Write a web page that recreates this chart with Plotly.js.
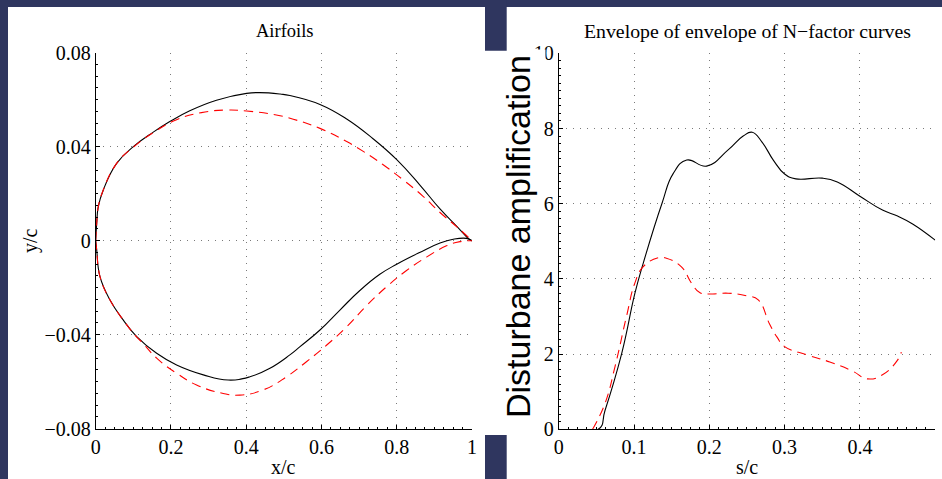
<!DOCTYPE html>
<html><head><meta charset="utf-8">
<script src="https://cdn.plot.ly/plotly-3.0.1.min.js"></script>
<style>html,body{margin:0;padding:0;background:#fff}#chart{width:942px;height:479px}</style>
</head><body><div id="chart"></div>
<script>
// ---- Airfoil data (x/c, y/c) ----
const upperXBlack = [0, 0.0027, 0.0069, 0.0202, 0.0557, 0.1, 0.153, 0.197, 0.25, 0.321, 0.401, 0.436, 0.49, 0.516, 0.596, 0.667, 0.737, 0.80, 0.861, 0.915, 0.959, 0.994, 1];
const upperYBlack = [0, 0.0074, 0.0145, 0.0216, 0.0329, 0.040, 0.0462, 0.0507, 0.0553, 0.0598, 0.0627, 0.063, 0.0624, 0.0618, 0.0580, 0.0518, 0.0434, 0.0345, 0.0238, 0.0135, 0.0062, 0.0004, 0];
const lowerXBlack = [0, 0.0027, 0.0114, 0.038, 0.073, 0.109, 0.162, 0.215, 0.286, 0.352, 0.41, 0.463, 0.516, 0.543, 0.596, 0.649, 0.702, 0.755, 0.80, 0.861, 0.915, 0.95, 0.985, 1];
const lowerYBlack = [0, -0.004, -0.0153, -0.0252, -0.0337, -0.0408, -0.0479, -0.0529, -0.0571, -0.0593, -0.0579, -0.0543, -0.0486, -0.0451, -0.038, -0.0295, -0.0212, -0.0143, -0.0100, -0.0050, -0.0010, 0.0006, 0.001, 0];
const upperXRed = [0, 0.0027, 0.0069, 0.0202, 0.0557, 0.1, 0.162, 0.215, 0.281, 0.348, 0.401, 0.48, 0.525, 0.596, 0.667, 0.711, 0.764, 0.817, 0.87, 0.915, 0.959, 1];
const upperYRed = [0, 0.0074, 0.0145, 0.0216, 0.0329, 0.0398, 0.0469, 0.0515, 0.0545, 0.0556, 0.0552, 0.0535, 0.0517, 0.0478, 0.0422, 0.0380, 0.0323, 0.0259, 0.0189, 0.0120, 0.0060, 0];
const lowerXRed = [0, 0.0027, 0.0114, 0.038, 0.073, 0.109, 0.126, 0.162, 0.215, 0.268, 0.339, 0.383, 0.445, 0.507, 0.56, 0.614, 0.667, 0.72, 0.773, 0.826, 0.879, 0.932, 0.968, 1];
const lowerYRed = [0, -0.004, -0.0153, -0.0252, -0.0337, -0.0410, -0.0437, -0.050, -0.0564, -0.0614, -0.065, -0.0657, -0.0635, -0.0579, -0.0515, -0.0444, -0.0366, -0.0276, -0.0196, -0.0127, -0.0070, -0.0022, -0.0004, 0];

// ---- N-factor envelope data (s/c, N) ----
const sBlack = [0, 0.0526, 0.0615, 0.0837, 0.101, 0.112, 0.137, 0.152, 0.170, 0.1965, 0.225, 0.245, 0.257, 0.27, 0.285, 0.3, 0.315, 0.35, 0.37, 0.4, 0.43, 0.45, 0.47, 0.5];
const nBlack = [0, 0, 0.5, 2.02, 3.6, 4.4, 6.0, 6.8, 7.16, 7.0, 7.43, 7.8, 7.9, 7.64, 7.16, 6.79, 6.66, 6.68, 6.58, 6.2, 5.83, 5.67, 5.46, 5.03];
const sRed = [0.045, 0.0615, 0.0748, 0.090, 0.101, 0.112, 0.132, 0.143, 0.163, 0.1766, 0.1877, 0.203, 0.225, 0.2497, 0.265, 0.28, 0.29, 0.3, 0.33, 0.36, 0.39, 0.41, 0.43, 0.45, 0.455];
const nRed = [0, 0.69, 1.67, 3.0, 3.88, 4.32, 4.56, 4.55, 4.32, 3.88, 3.63, 3.6, 3.62, 3.55, 3.44, 2.8, 2.45, 2.2, 1.98, 1.79, 1.55, 1.34, 1.45, 1.84, 2.05];

// ---- Tick labels ----
const x1Ticks = [0, 0.2, 0.4, 0.6, 0.8, 1];
const x1TickText = ['0', '0.2', '0.4', '0.6', '0.8', '1'];
const y1Ticks = [-0.08, -0.04, 0, 0.04, 0.08];
const y1TickText = ['\u22120.08', '\u22120.04', '0', '0.04', '0.08'];
const x2Ticks = [0, 0.1, 0.2, 0.3, 0.4, 0.5];
const x2TickText = ['0', '0.1', '0.2', '0.3', '0.4', '0.5'];
const y2Ticks = [0, 2, 4, 6, 8, 10];
const y2TickText = ['0', '2', '4', '6', '8', '10'];

const W = 942, H = 479;
const px = v => v / W, py = v => 1 - v / H;
const serif = 'Liberation Serif, Times New Roman, serif';
const navy = '#2f365f';

const blackLine = {color: '#000', width: 1.1, shape: 'spline', smoothing: 1.3};
const redLine = {color: '#ff0000', width: 1.1, dash: '9px,6px', shape: 'spline', smoothing: 1.3};

const traces = [
  {x: upperXBlack, y: upperYBlack, xaxis: 'x', yaxis: 'y', mode: 'lines', line: blackLine},
  {x: lowerXBlack, y: lowerYBlack, xaxis: 'x', yaxis: 'y', mode: 'lines', line: blackLine},
  {x: upperXRed, y: upperYRed, xaxis: 'x', yaxis: 'y', mode: 'lines', line: redLine},
  {x: lowerXRed, y: lowerYRed, xaxis: 'x', yaxis: 'y', mode: 'lines', line: redLine},
  {x: sBlack, y: nBlack, xaxis: 'x2', yaxis: 'y2', mode: 'lines', line: blackLine},
  {x: sRed, y: nRed, xaxis: 'x2', yaxis: 'y2', mode: 'lines', line: redLine}
];

function axis(extra) {
  return Object.assign({
    showline: true, linecolor: '#000', linewidth: 1, mirror: false,
    ticks: 'inside', ticklen: 4, tickcolor: '#000', tickwidth: 1,
    showgrid: true, gridcolor: '#7a7a7a', gridwidth: 1, griddash: '1px,6px',
    zeroline: false, tickmode: 'array',
    tickfont: {family: serif, size: 20, color: '#000'},
    fixedrange: true
  }, extra);
}

const layout = {
  width: W, height: H,
  margin: {l: 0, r: 0, t: 0, b: 0},
  paper_bgcolor: '#ffffff', plot_bgcolor: 'rgba(0,0,0,0)',
  showlegend: false,
  xaxis: axis({domain: [px(95.7), px(472)], range: [0, 1], anchor: 'y', tickvals: x1Ticks, ticktext: x1TickText,
    minor: {ticks: 'inside', ticklen: 2, dtick: 0.025, tickcolor: '#000', showgrid: false}}),
  yaxis: axis({domain: [1 - 428.7 / H, 1 - 52.7 / H], range: [-0.08, 0.08], anchor: 'x', tickvals: y1Ticks, ticktext: y1TickText,
    minor: {ticks: 'inside', ticklen: 2, dtick: 0.005, tickcolor: '#000', showgrid: false}}),
  xaxis2: axis({domain: [px(558.7), px(935.2)], range: [0, 0.5], anchor: 'y2', tickvals: x2Ticks, ticktext: x2TickText,
    minor: {ticks: 'inside', ticklen: 2, dtick: 0.0125, tickcolor: '#000', showgrid: false}}),
  yaxis2: axis({domain: [1 - 429.3 / H, 1 - 53.3 / H], range: [0, 10], anchor: 'x2', tickvals: y2Ticks, ticktext: y2TickText,
    minor: {ticks: 'inside', ticklen: 2, dtick: 0.2, tickcolor: '#000', showgrid: false}}),
  annotations: [
    {text: 'Airfoils', x: px(285), y: py(31), xref: 'paper', yref: 'paper', xanchor: 'center', yanchor: 'middle', showarrow: false,
     font: {family: serif, size: 18.5, color: '#000'}},
    {text: 'Envelope of envelope of N\u2212factor curves', x: px(747), y: py(31), xref: 'paper', yref: 'paper', xanchor: 'center', yanchor: 'middle', showarrow: false,
     font: {family: serif, size: 19.8, color: '#000'}},
    {text: 'x/c', x: px(283), y: py(467), xref: 'paper', yref: 'paper', xanchor: 'center', yanchor: 'middle', showarrow: false,
     font: {family: serif, size: 20, color: '#000'}},
    {text: 's/c', x: px(747), y: py(467), xref: 'paper', yref: 'paper', xanchor: 'center', yanchor: 'middle', showarrow: false,
     font: {family: serif, size: 20, color: '#000'}},
    {text: 'y/c', x: px(30), y: py(241), xref: 'paper', yref: 'paper', xanchor: 'center', yanchor: 'middle', showarrow: false, textangle: -90,
     font: {family: serif, size: 20, color: '#000'}},
    {text: 'Disturbane amplification', x: px(518), y: py(237), xref: 'paper', yref: 'paper', xanchor: 'center', yanchor: 'middle', showarrow: false, textangle: -90,
     font: {family: 'Liberation Sans, Arial, sans-serif', size: 34, color: '#000'}}
  ],
  shapes: [
    {type: 'rect', xref: 'paper', yref: 'paper', x0: 0, x1: px(8), y0: 0, y1: 1, fillcolor: navy, line: {width: 0}, layer: 'above'},
    {type: 'rect', xref: 'paper', yref: 'paper', x0: 0, x1: 1, y0: py(7), y1: 1, fillcolor: navy, line: {width: 0}, layer: 'above'},
    {type: 'rect', xref: 'paper', yref: 'paper', x0: px(485), x1: px(506.7), y0: py(50.7), y1: 1, fillcolor: navy, line: {width: 0}, layer: 'above'},
    {type: 'rect', xref: 'paper', yref: 'paper', x0: px(485), x1: px(506.7), y0: 0, y1: py(435), fillcolor: navy, line: {width: 0}, layer: 'above'},
    {type: 'rect', xref: 'paper', yref: 'paper', x0: px(530), x1: px(545.5), y0: py(63), y1: py(49.5), fillcolor: '#ffffff', line: {width: 0}, layer: 'above'}
  ]
};

Plotly.newPlot('chart', traces, layout, {displayModeBar: false, staticPlot: true});
</script></body></html>
